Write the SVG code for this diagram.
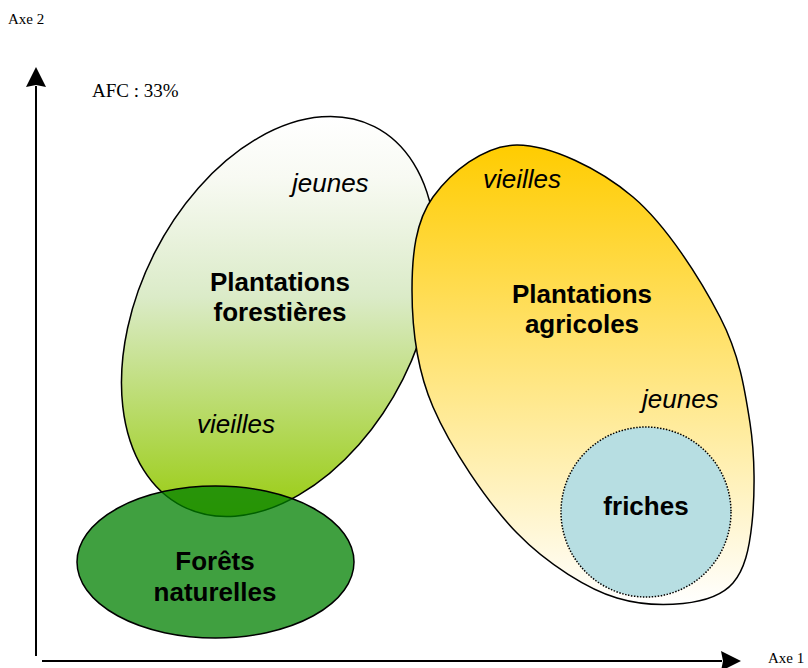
<svg xmlns="http://www.w3.org/2000/svg" width="808" height="668" viewBox="0 0 808 668">
<style>
.ax{font-family:"Liberation Serif","Times New Roman",serif;fill:#000}
.b{font-family:"Liberation Sans",Arial,sans-serif;font-weight:bold;font-size:26px;fill:#000;text-anchor:middle}
.i{font-family:"Liberation Sans",Arial,sans-serif;font-style:italic;font-size:26px;fill:#000}
.axis{stroke:#000;stroke-width:2;fill:none}
.outline{stroke:#000;stroke-width:1.5}
</style>
<defs>
<linearGradient id="gForest" gradientUnits="userSpaceOnUse" x1="278.5" y1="117.5" x2="278.5" y2="515.5" gradientTransform="rotate(-26.8 278.5 316.5)">
<stop offset="0" stop-color="#ffffff"/>
<stop offset="0.15" stop-color="#f8faf3"/>
<stop offset="0.45" stop-color="#dbebc8"/>
<stop offset="1" stop-color="#99cc11"/>
</linearGradient>
<linearGradient id="gAgri" x1="0" y1="0" x2="0" y2="1">
<stop offset="0" stop-color="#ffcc00"/>
<stop offset="1" stop-color="#ffffff"/>
</linearGradient>
<marker id="arr" viewBox="0 0 20 20" markerWidth="20" markerHeight="20" markerUnits="userSpaceOnUse" refX="1" refY="10" orient="auto">
<path d="M0,0 L20,10 L0,20 L2,10 Z" fill="#000"/>
</marker>
</defs>
<g id="axes">
<line class="axis" x1="36" y1="656" x2="36" y2="86" marker-end="url(#arr)"/>
<line class="axis" x1="42" y1="661" x2="722" y2="661" marker-end="url(#arr)"/>
<text class="ax" x="8" y="24" font-size="15">Axe 2</text>
<text class="ax" x="768" y="663" font-size="15">Axe 1</text>
<text class="ax" x="92" y="97" font-size="19">AFC : 33%</text>
</g>
<g id="plantations-forestieres">
<ellipse class="outline" cx="278.5" cy="316.5" rx="139.3" ry="212.7" transform="rotate(26.8 278.5 316.5)" fill="url(#gForest)"/>
<text class="b" x="280" y="291">Plantations</text>
<text class="b" x="280" y="321">forestières</text>
<text class="i" x="292" y="192">jeunes</text>
<text class="i" x="197" y="433">vieilles</text>
</g>
<g id="plantations-agricoles">
<path class="outline" fill="url(#gAgri)" d="M517,145 C550.3,145 599.2,168.3 633,197 C666.8,225.7 700.5,279.3 720,317 C739.5,354.7 744.7,388.7 750,423 C755.3,457.3 754.8,496.3 752,523 C749.2,549.7 744.5,569.7 733,583 C721.5,596.3 702.3,601.5 683,603.5 C663.7,605.5 642,605.5 617,598 C589.3,589.7 547.7,564.7 517,533 C486.3,501.3 450.5,447.5 433,407 C415.5,366.5 412,325 412,290 C412,255 415.5,221.2 433,197 C450.5,172.8 483.7,145 517,145 Z"/>
<text class="b" x="582" y="303">Plantations</text>
<text class="b" x="582" y="333">agricoles</text>
<text class="i" x="483" y="188">vieilles</text>
<text class="i" x="642" y="408">jeunes</text>
</g>
<g id="forets-naturelles">
<ellipse class="outline" cx="215.5" cy="562" rx="138.5" ry="76" fill="#008000" fill-opacity="0.75"/>
<text class="b" x="215" y="570">Forêts</text>
<text class="b" x="215" y="601">naturelles</text>
</g>
<g id="friches">
<circle cx="646" cy="512" r="85" fill="#b7dee2" stroke="#000" stroke-width="1.5" stroke-dasharray="1.5 1.5"/>
<text class="b" x="646" y="515">friches</text>
</g>
</svg>
